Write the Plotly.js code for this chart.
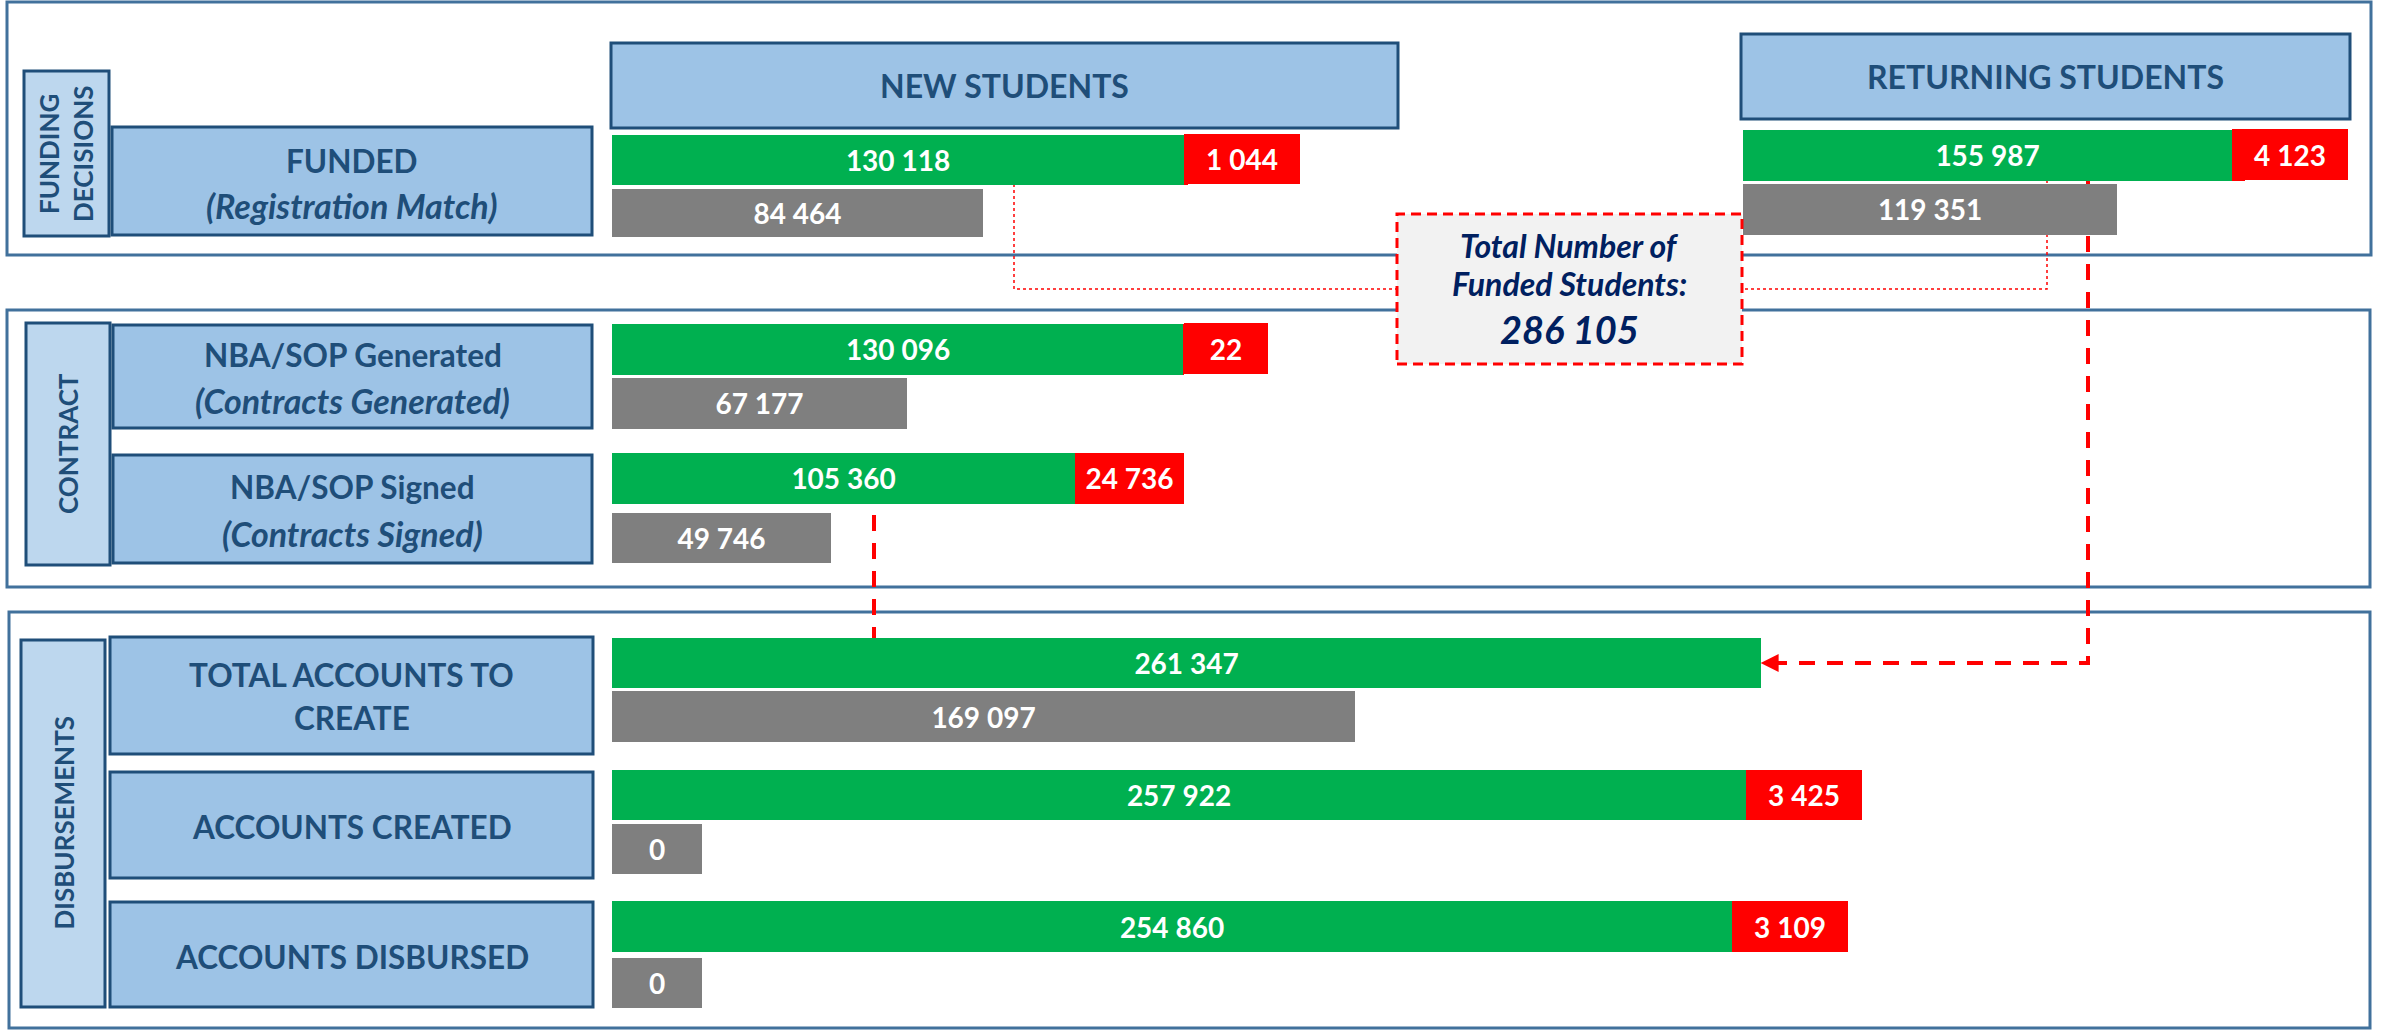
<!DOCTYPE html>
<html>
<head>
<meta charset="utf-8">
<script src="https://cdn.plot.ly/plotly-3.0.1.min.js"></script>
<style>
html,body{margin:0;padding:0;background:#fff;overflow:hidden}
#chart{width:2381px;height:1030px}
</style>
</head>
<body>
<div id="chart"></div>
<script>
// ---------------- DATA ----------------
const stages = ["New Students – Funded", "Returning Students – Funded", "NBA/SOP Generated",
                "NBA/SOP Signed", "Total Accounts to Create", "Accounts Created", "Accounts Disbursed"];
const completed   = [130118, 155987, 130096, 105360, 261347, 257922, 254860];   // green
const outstanding = [1044,   4123,   22,     24736,  null,   3425,   3109];     // red
const pending     = [84464,  119351, 67177,  49746,  169097, 0,      0];        // grey
const columnHeaders = ["NEW STUDENTS", "RETURNING STUDENTS"];
const sectionLabels = [["FUNDING", "DECISIONS"], ["CONTRACT"], ["DISBURSEMENTS"]];
const stageBoxLabels = [
  [["FUNDED", "n"], ["(Registration Match)", "i"]],
  [["NBA/SOP Generated", "n"], ["(Contracts Generated)", "i"]],
  [["NBA/SOP Signed", "n"], ["(Contracts Signed)", "i"]],
  [["TOTAL ACCOUNTS TO", "n"], ["CREATE", "n"]],
  [["ACCOUNTS CREATED", "n"]],
  [["ACCOUNTS DISBURSED", "n"]]
];
const calloutLines = ["Total Number of", "Funded Students:"];
const totalFunded = completed[0] + completed[1];

// ---------------- LAYOUT (pixels) ----------------
const W = 2381, H = 1030;
const X = p => p / W, Y = p => 1 - p / H;
// per stage: [barTop, barBottom, pendingTop, pendingBottom, column]
const rows = [
  [134, 184, 188, 236, 0],
  [129, 180, 183, 234, 1],
  [323, 374, 377, 428, 0],
  [453, 504, 513, 563, 0],
  [638, 688, 691, 742, 0],
  [770, 820, 824, 874, 0],
  [901, 952, 958, 1008, 0]
];
const cols = [{x0: 612, x1: 2370, max: 400000}, {x0: 1743, x1: 2370, max: 200000}];
const sections = [[7, 2, 2371, 255], [7, 310, 2370, 587], [9, 612, 2370, 1028]];
const sideBoxes = [[24, 71, 109, 236], [26, 323, 110, 565], [21, 640, 105, 1007]];
const stageBoxes = [[112, 127, 592, 235], [113, 325, 592, 428], [113, 455, 592, 563],
                    [110, 637, 593, 754], [110, 772, 593, 878], [110, 902, 593, 1007]];
const stageTextY = [[161, 205], [355, 400], [487, 533], [675, 718], [827], [957]];
const headerBoxes = [[611, 43, 1398, 128], [1741, 34, 2350, 119]];

const FONT = 'Lato, "Open Sans", "DejaVu Sans", sans-serif';
const TXT = '#1F4E79', NAVY = '#002060';
const BOX_FILL = '#9DC3E6', SIDE_FILL = '#BDD7EE', BOX_LINE = '#1F4E79', SEC_LINE = '#41719C';
const GREEN = '#00B050', RED = '#FF0000', GREY = '#7F7F7F';
const fmt = v => String(v).replace(/\B(?=(\d{3})+(?!\d))/g, ' ');
const colPx = (c, v) => cols[c].x0 + v / cols[c].max * (cols[c].x1 - cols[c].x0);

const traces = [], shapes = [], annotations = [];
const layout = {
  width: W, height: H, margin: {l: 0, r: 0, t: 0, b: 0},
  paper_bgcolor: '#ffffff', plot_bgcolor: 'rgba(0,0,0,0)',
  showlegend: false, barmode: 'stack', bargap: 0,
  font: {family: FONT}
};

cols.forEach((c, k) => {
  layout[k === 0 ? 'xaxis' : 'xaxis2'] = {
    domain: [X(c.x0), X(c.x1)], range: [0, c.max], visible: false, fixedrange: true,
    anchor: k === 0 ? 'y' : 'y2'
  };
});

const barFont = {family: FONT, size: 28, color: '#ffffff', weight: 'bold'};

rows.forEach((r, i) => {
  const [gt, gb, pt, pb, col] = r;
  const gc = (gt + gb) / 2, pc = (pt + pb) / 2, d = pc - gc;
  const yid = i === 0 ? 'y' : 'y' + (i + 1);
  const yname = i === 0 ? 'yaxis' : 'yaxis' + (i + 1);
  const xid = col === 0 ? 'x' : 'x2';
  layout[yname] = {
    domain: [Y(pc + d / 2), Y(gc - d / 2)], type: 'category',
    categoryorder: 'array', categoryarray: ['main', 'pending'],
    range: [1.5, -0.5], visible: false, fixedrange: true, anchor: xid
  };
  const wMain = (gb - gt) / d, wPend = (pb - pt) / d;
  const common = {type: 'bar', orientation: 'h', xaxis: xid, yaxis: yid,
                  textposition: 'inside', insidetextanchor: 'middle',
                  textfont: barFont, insidetextfont: barFont, texttemplate: '%{text}',
                  marker: {line: {width: 0}}, hovertemplate: '%{text}<extra>' + stages[i] + '</extra>'};
  traces.push(Object.assign({}, common, {
    name: 'Completed', x: [completed[i]], y: ['main'], width: [wMain],
    text: [fmt(completed[i])], marker: {color: GREEN, line: {width: 0}}
  }));
  if (outstanding[i] !== null) {
    const pxw = outstanding[i] / cols[col].max * (cols[col].x1 - cols[col].x0);
    const fits = pxw >= 100;
    traces.push(Object.assign({}, common, {
      name: 'Outstanding', x: [outstanding[i]], y: ['main'], width: [wMain],
      text: [fits ? fmt(outstanding[i]) : ''], marker: {color: RED, line: {width: 0}}
    }));
    if (!fits) {
      const s = fmt(outstanding[i]);
      annotations.push({
        xref: xid, yref: yid, x: completed[i], y: 0, xanchor: 'left', yanchor: 'middle',
        text: s, showarrow: false, bgcolor: RED, borderpad: 0, borderwidth: 0,
        width: Math.max(84, 36 + 16 * s.length), height: gb - gt, font: barFont
      });
    }
  }
  traces.push(Object.assign({}, common, {
    name: 'Pending', x: [pending[i]], y: ['pending'], width: [wPend],
    text: [pending[i] > 0 ? fmt(pending[i]) : ''], marker: {color: GREY, line: {width: 0}}
  }));
  if (pending[i] === 0) {
    annotations.push({
      xref: xid, yref: yid, x: 0, y: 1, xanchor: 'left', yanchor: 'middle',
      text: fmt(pending[i]), showarrow: false, bgcolor: GREY, borderpad: 0, borderwidth: 0,
      width: 90, height: pb - pt, font: barFont
    });
  }
});

// ---------------- DECORATION ----------------
const rect = (b, fill, line, lw, layer, dash) => shapes.push({
  type: 'rect', xref: 'paper', yref: 'paper', x0: X(b[0]), x1: X(b[2]), y0: Y(b[3]), y1: Y(b[1]),
  fillcolor: fill, line: {color: line, width: lw, dash: dash || 'solid'}, layer: layer || 'below'
});
const path = (pts, color, lw, dash, layer) => shapes.push({
  type: 'path', xref: 'paper', yref: 'paper',
  path: pts.map((p, k) => (k === 0 ? 'M' : 'L') + X(p[0]) + ',' + Y(p[1])).join(' '),
  line: {color: color, width: lw, dash: dash}, layer: layer || 'below'
});
const txt = (x, y, text, size, color, opts) => annotations.push(Object.assign({
  xref: 'paper', yref: 'paper', x: X(x), y: Y(y), xanchor: 'center', yanchor: 'middle',
  text: text, showarrow: false, font: {family: FONT, size: size, color: color, weight: 'bold'}
}, opts || {}));

sections.forEach(b => rect(b, '#ffffff', SEC_LINE, 3));
sideBoxes.forEach((b, k) => {
  rect(b, SIDE_FILL, BOX_LINE, 3);
  txt((b[0] + b[2]) / 2, (b[1] + b[3]) / 2, sectionLabels[k].join('<br>'), 26, TXT, {textangle: -90});
});
stageBoxes.forEach((b, k) => {
  rect(b, BOX_FILL, BOX_LINE, 3);
  stageBoxLabels[k].forEach((ln, j) => {
    txt((b[0] + b[2]) / 2, stageTextY[k][j], ln[0], 31.5, TXT,
        ln[1] === 'i' ? {font: {family: FONT, size: 34, color: TXT, weight: 'bold', style: 'italic'}} : {});
  });
});
headerBoxes.forEach((b, k) => {
  rect(b, BOX_FILL, BOX_LINE, 3);
  txt((b[0] + b[2]) / 2, (b[1] + b[3]) / 2, columnHeaders[k], 32, TXT);
});

// thin dotted connectors to the callout
path([[1014, 184], [1014, 289], [1397, 289]], RED, 1.5, '3px,3px');
path([[2047, 180], [2047, 289], [1742, 289]], RED, 1.5, '3px,3px');

// callout box
rect([1397, 214, 1742, 364], '#F2F2F2', RED, 3, 'above', '10px,6px');
const italicNavy = s => ({font: {family: FONT, size: s, color: NAVY, weight: 'bold', style: 'italic'}});
txt(1569.5, 245, calloutLines[0], 32, NAVY, italicNavy(32));
txt(1569.5, 283, calloutLines[1], 32, NAVY, italicNavy(32));
txt(1569.5, 329, fmt(totalFunded), 38, NAVY, italicNavy(38));

// thick dashed flow lines
const tip = colPx(0, completed[4]);
path([[2088, 180], [2088, 663], [tip + 16, 663]], RED, 4, '16px,12px');
path([[874, 515], [874, 638]], RED, 4, '16px,12px');
annotations.push({
  xref: 'x', yref: 'y5', x: completed[4], y: 0, ax: 20, ay: 0, text: '', showarrow: true,
  arrowhead: 2, arrowsize: 1.2, arrowwidth: 3, arrowcolor: RED, standoff: 0
});

layout.shapes = shapes;
layout.annotations = annotations;

Plotly.newPlot('chart', traces, layout, {displayModeBar: false, responsive: false});
</script>
</body>
</html>
